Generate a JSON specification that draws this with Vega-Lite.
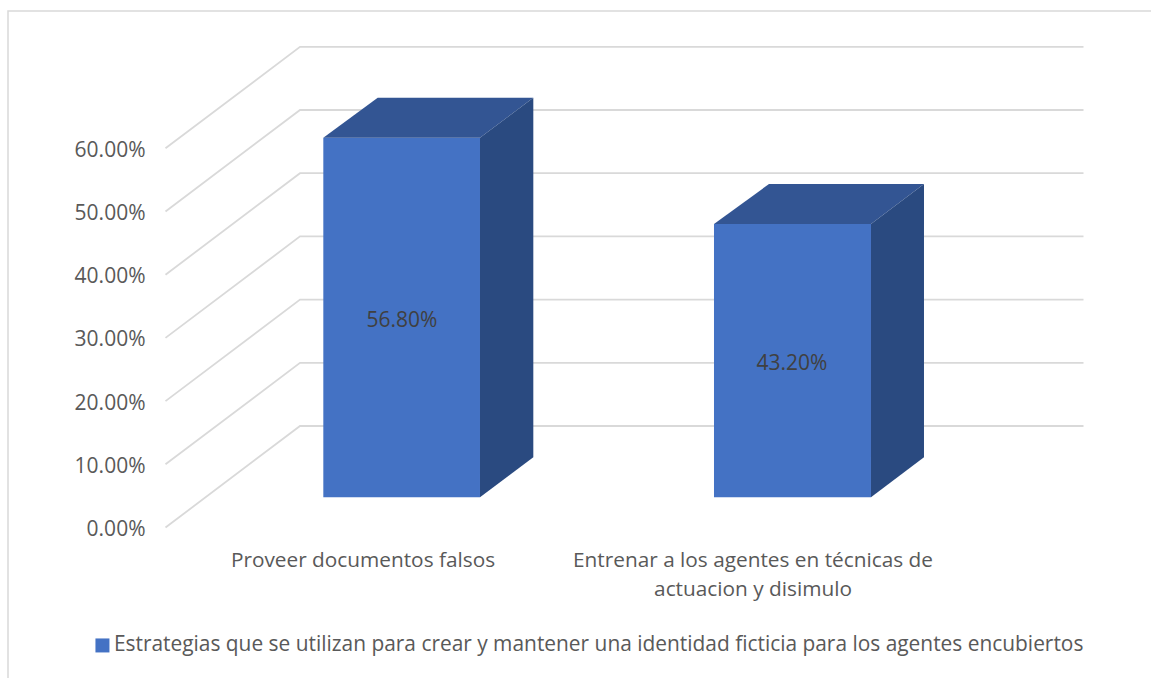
{
"$schema":"https://vega.github.io/schema/vega-lite/v6.json",
"autosize":{"type":"none"},
"padding":{"left":8,"top":11,"right":0,"bottom":0},
"width":1160,"height":680,
"background":"white",
"view":{"stroke":"#D9D9D9","strokeWidth":1.5,"fill":"white"},
"config":{"font":"Open Sans"},
"datasets":{
"grid":[
{"level":0,"pos":0,"v":0},{"level":0,"pos":0.3436,"v":16.06},{"level":0,"pos":2.3448,"v":16.06},
{"level":10,"pos":0,"v":10},{"level":10,"pos":0.3436,"v":26.06},{"level":10,"pos":2.3448,"v":26.06},
{"level":20,"pos":0,"v":20},{"level":20,"pos":0.3436,"v":36.06},{"level":20,"pos":2.3448,"v":36.06},
{"level":30,"pos":0,"v":30},{"level":30,"pos":0.3436,"v":46.06},{"level":30,"pos":2.3448,"v":46.06},
{"level":40,"pos":0,"v":40},{"level":40,"pos":0.3436,"v":56.06},{"level":40,"pos":2.3448,"v":56.06},
{"level":50,"pos":0,"v":50},{"level":50,"pos":0.3436,"v":66.06},{"level":50,"pos":2.3448,"v":66.06},
{"level":60,"pos":0,"v":60},{"level":60,"pos":0.3436,"v":76.06},{"level":60,"pos":2.3448,"v":76.06}
],
"faces":[
{"category":"Proveer documentos falsos","face":"top","pos":0.4031,"v":61.65,"v2":61.65},
{"category":"Proveer documentos falsos","face":"top","pos":0.542,"v":67.98,"v2":61.65},
{"category":"Proveer documentos falsos","face":"top","pos":0.8033,"v":67.98,"v2":61.65},
{"category":"Proveer documentos falsos","face":"top","pos":0.9395,"v":67.98,"v2":67.98},
{"category":"Proveer documentos falsos","face":"side","pos":0.8033,"v":61.65,"v2":4.78},
{"category":"Proveer documentos falsos","face":"side","pos":0.9395,"v":67.98,"v2":11.11},
{"category":"Entrenar a los agentes en técnicas de actuacion y disimulo","face":"top","pos":1.401,"v":48.02,"v2":48.02},
{"category":"Entrenar a los agentes en técnicas de actuacion y disimulo","face":"top","pos":1.5415,"v":54.35,"v2":48.02},
{"category":"Entrenar a los agentes en técnicas de actuacion y disimulo","face":"top","pos":1.802,"v":54.35,"v2":48.02},
{"category":"Entrenar a los agentes en técnicas de actuacion y disimulo","face":"top","pos":1.9374,"v":54.35,"v2":54.35},
{"category":"Entrenar a los agentes en técnicas de actuacion y disimulo","face":"side","pos":1.802,"v":48.02,"v2":4.78},
{"category":"Entrenar a los agentes en técnicas de actuacion y disimulo","face":"side","pos":1.9374,"v":54.35,"v2":11.11}
],
"bars":[
{"category":"Proveer documentos falsos","series":"Estrategias que se utilizan para crear y mantener una identidad ficticia para los agentes encubiertos","start":0.4031,"end":0.8033,"base":4.78,"top":61.65,"value":0.568,"mid":33.2},
{"category":"Entrenar a los agentes en técnicas de actuacion y disimulo","series":"Estrategias que se utilizan para crear y mantener una identidad ficticia para los agentes encubiertos","start":1.401,"end":1.802,"base":4.78,"top":48.02,"value":0.432,"mid":26.4}
]
},
"resolve":{"scale":{"x":"independent"}},
"layer":[
{"data":{"name":"grid"},
 "mark":{"type":"line","color":"#D9D9D9","strokeWidth":1.8,"interpolate":"linear"},
 "encoding":{
  "x":{"field":"pos","type":"quantitative","scale":{"domain":[0,3],"range":[157.5,1332]},"axis":null},
  "y":{"field":"v","type":"quantitative","scale":{"domain":[0,80],"range":[516.5,10.9]},
   "axis":{"values":[0,10,20,30,40,50,60],"offset":-137,"domain":false,"ticks":false,"grid":false,"title":null,"labelExpr":"format(datum.value/100,'.2%')","labelFontSize":21,"labelColor":"#595959","labelPadding":0,"labelOffset":2,"labelFont":"Open Sans"}},
  "detail":{"field":"level"}
 }},
{"data":{"name":"bars"},
 "mark":{"type":"rect"},
 "encoding":{
  "x":{"field":"start","type":"quantitative","scale":{"domain":[0,3],"range":[157.5,1332]},"axis":null},
  "x2":{"field":"end"},
  "y":{"field":"top","type":"quantitative","scale":{"domain":[0,80],"range":[516.5,10.9]}},
  "y2":{"field":"base"},
  "color":{"field":"series","type":"nominal","scale":{"range":["#4472C4"]},
   "legend":{"orient":"none","legendX":84,"legendY":624,"title":null,"symbolType":"square","symbolSize":196,"symbolStrokeWidth":0,"labelFontSize":20.9,"labelColor":"#595959","labelLimit":1200,"labelOffset":1,"labelFont":"Open Sans"}}
 }},
{"data":{"name":"faces"},
 "transform":[{"filter":"datum.face==='top'"}],
 "mark":{"type":"area","color":"#335593","orient":"vertical"},
 "encoding":{
  "x":{"field":"pos","type":"quantitative","scale":{"domain":[0,3],"range":[157.5,1332]},"axis":null},
  "y":{"field":"v","type":"quantitative","scale":{"domain":[0,80],"range":[516.5,10.9]}},
  "y2":{"field":"v2"},
  "detail":{"field":"category"}
 }},
{"data":{"name":"faces"},
 "transform":[{"filter":"datum.face==='side'"}],
 "mark":{"type":"area","color":"#2A4A80","orient":"vertical"},
 "encoding":{
  "x":{"field":"pos","type":"quantitative","scale":{"domain":[0,3],"range":[157.5,1332]},"axis":null},
  "y":{"field":"v","type":"quantitative","scale":{"domain":[0,80],"range":[516.5,10.9]}},
  "y2":{"field":"v2"},
  "detail":{"field":"category"}
 }},
{"data":{"name":"bars"},
 "mark":{"type":"text","dx":39,"dy":3,"fontSize":21,"color":"#404040","font":"Open Sans","baseline":"middle"},
 "encoding":{
  "x":{"field":"category","type":"nominal","sort":null,"scale":{"type":"band","range":[160,940],"paddingInner":0,"paddingOuter":0},
   "axis":{"title":null,"offset":-141,"domain":false,"ticks":false,"labelAngle":0,"labelFontSize":20.8,"labelColor":"#595959","labelPadding":0,"labelLimit":600,"labelBaseline":"top","labelLineHeight":29,"labelFont":"Open Sans",
   "labelExpr":"datum.label=='Entrenar a los agentes en técnicas de actuacion y disimulo'?['Entrenar a los agentes en técnicas de','actuacion y disimulo']:datum.label"}},
  "y":{"field":"mid","type":"quantitative","scale":{"domain":[0,80],"range":[516.5,10.9]}},
  "text":{"field":"value","type":"quantitative","format":".2%"}
 }}
]
}
